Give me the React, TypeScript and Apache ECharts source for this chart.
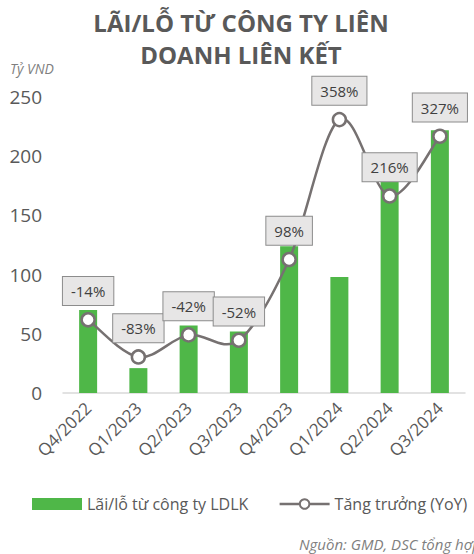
import React, { useEffect, useRef } from "react";
import * as echarts from "echarts";

const categories = ["Q4/2022", "Q1/2023", "Q2/2023", "Q3/2023", "Q4/2023", "Q1/2024", "Q2/2024", "Q3/2024"];
const profitValues = [70, 21, 57, 52, 124, 98, 180, 222];
const yoyValues = [-14, -83, -42, -52, 98, 358, 216, 327];
const yTicks = { min: 0, max: 250, interval: 50 };
const seriesNames = ["Lãi/lỗ từ công ty LDLK", "Tăng trưởng (YoY)"];
const titleText = "LÃI/LỖ TỪ CÔNG TY LIÊN\nDOANH LIÊN KẾT";
const unitText = "Tỷ VND";
const sourceText = "Nguồn: GMD, DSC tổng hợp";

const FONT = "'Open Sans', 'Noto Sans', sans-serif";
const LINE_COLOR = "#767171";

export default function App() {
  const ref = useRef<HTMLDivElement>(null);
  useEffect(() => {
    if (!ref.current) return;
    const chart = echarts.init(ref.current, undefined, { renderer: "svg" });
    const n = yoyValues.length;
    // one row per curve segment: [index, prev, start, end, next]
    const segments = yoyValues.slice(0, -1).map((v, i) => [
      i,
      yoyValues[Math.max(i - 1, 0)],
      v,
      yoyValues[i + 1],
      yoyValues[Math.min(i + 2, n - 1)],
    ]);
    chart.setOption({
      animation: false,
      backgroundColor: "#ffffff",
      textStyle: { fontFamily: FONT },
      graphic: [
        {
          type: "text",
          x: 241,
          y: 6,
          style: {
            text: titleText,
            fontFamily: FONT,
            fontSize: 24,
            fontWeight: "bold",
            fill: "#595959",
            align: "center",
            lineHeight: 32,
          },
        },
        {
          type: "text",
          x: 10,
          y: 61,
          style: {
            text: unitText,
            fontFamily: FONT,
            fontSize: 14,
            fontStyle: "italic",
            fill: "#7f7f7f",
          },
        },
        {
          type: "text",
          x: 299,
          y: 536,
          style: {
            text: sourceText,
            fontFamily: FONT,
            fontSize: 15,
            fontStyle: "italic",
            fill: "#7f7f7f",
          },
        },
      ],
      legend: {
        left: 27,
        top: 491,
        width: 447,
        itemWidth: 50,
        itemHeight: 12,
        itemGap: 30,
        textStyle: { fontFamily: FONT, fontSize: 16, color: "#595959" },
        data: [
          { name: seriesNames[0], icon: "rect" },
          { name: seriesNames[1], lineStyle: { color: LINE_COLOR, width: 2.5, opacity: 1 } },
        ],
      },
      grid: { left: 63, right: 9, top: 97, bottom: 161 },
      xAxis: {
        type: "category",
        data: categories,
        axisLine: { show: true, lineStyle: { color: "#d9d9d9", width: 1.5 } },
        axisTick: { show: false },
        axisLabel: {
          rotate: 45,
          margin: 12,
          fontFamily: FONT,
          fontSize: 17,
          color: "#595959",
          interval: 0,
        },
      },
      yAxis: [
        {
          type: "value",
          min: yTicks.min,
          max: yTicks.max,
          interval: yTicks.interval,
          splitLine: { show: false },
          axisLine: { show: false },
          axisTick: { show: false },
          axisLabel: { margin: 21, fontFamily: FONT, fontSize: 19, color: "#595959" },
        },
        {
          type: "value",
          min: -150,
          max: 400,
          show: false,
          splitLine: { show: false },
        },
      ],
      series: [
        {
          name: seriesNames[0],
          type: "bar",
          data: profitValues,
          barWidth: 18,
          itemStyle: { color: "#4fb748" },
          yAxisIndex: 0,
        },
        {
          type: "custom",
          yAxisIndex: 1,
          data: segments,
          clip: false,
          silent: true,
          z: 4,
          encode: { x: 0, y: 2 },
          renderItem: (params: any, api: any) => {
            const i = api.value(0);
            const p0 = api.coord([Math.max(i - 1, 0), api.value(1)]);
            const p1 = api.coord([i, api.value(2)]);
            const p2 = api.coord([i + 1, api.value(3)]);
            const p3 = api.coord([Math.min(i + 2, n - 1), api.value(4)]);
            const t = 1 / 6;
            return {
              type: "bezierCurve",
              shape: {
                x1: p1[0],
                y1: p1[1],
                x2: p2[0],
                y2: p2[1],
                cpx1: p1[0] + (p2[0] - p0[0]) * t,
                cpy1: p1[1] + (p2[1] - p0[1]) * t,
                cpx2: p2[0] - (p3[0] - p1[0]) * t,
                cpy2: p2[1] - (p3[1] - p1[1]) * t,
              },
              style: { stroke: LINE_COLOR, lineWidth: 2.5, fill: "none" },
            };
          },
        },
        {
          name: seriesNames[1],
          type: "line",
          data: yoyValues,
          yAxisIndex: 1,
          symbol: "circle",
          symbolSize: 13,
          lineStyle: { color: LINE_COLOR, width: 2.5, opacity: 0 },
          itemStyle: { color: "#ffffff", borderColor: LINE_COLOR, borderWidth: 2.5 },
          label: {
            show: true,
            position: "top",
            distance: 7,
            formatter: (p: any) => p.value + "%",
            fontFamily: FONT,
            fontSize: 15,
            lineHeight: 16,
            color: "#404040",
            backgroundColor: "#e7e6e6",
            borderColor: "#8c8c8c",
            borderWidth: 1,
            padding: [6, 8, 6, 8],
          },
          z: 5,
        },
      ],
    });
    return () => chart.dispose();
  }, []);
  return (
    <div
      ref={ref}
      style={{ position: "absolute", left: 0, top: 0, width: 474, height: 554 }}
    />
  );
}
